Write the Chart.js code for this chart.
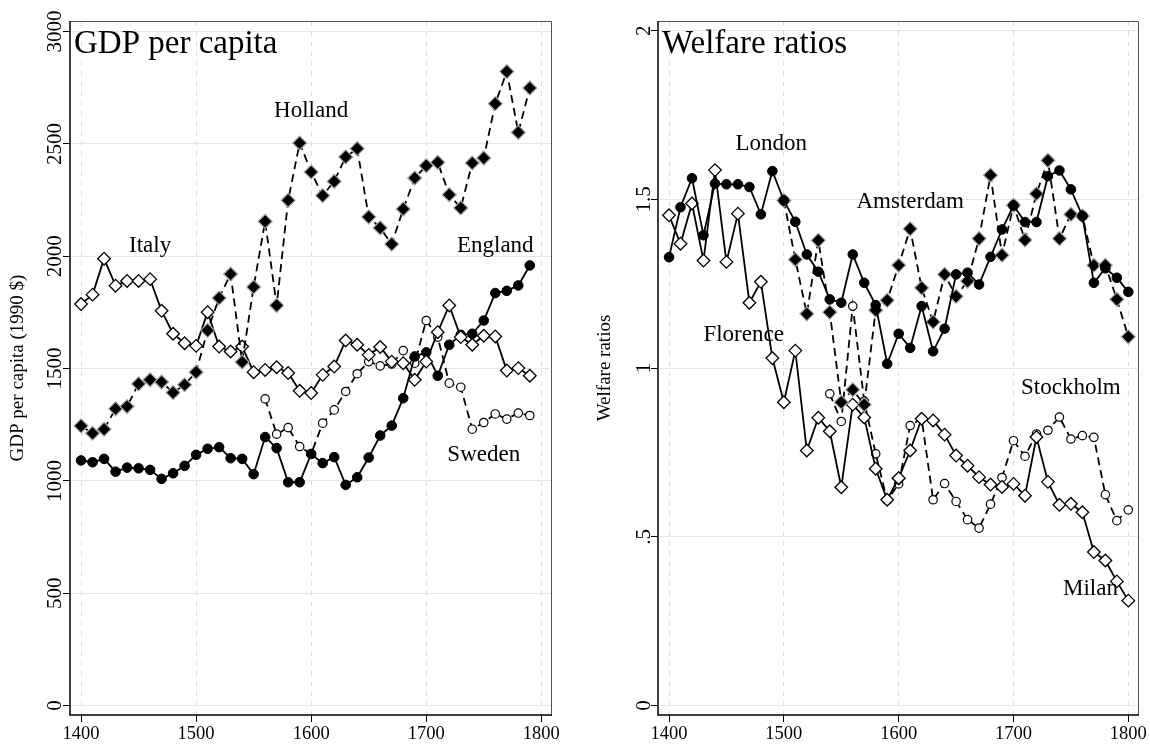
<!DOCTYPE html>
<html><head><meta charset="utf-8">
<script src="https://cdn.jsdelivr.net/npm/chart.js@4.4.1/dist/chart.umd.min.js"></script>
<style>
html,body{margin:0;padding:0;background:#fff;}
#wrap{position:relative;width:1150px;height:744px;background:#fff;}
.panel{position:absolute;top:0;width:575px;height:744px;}
#p1{left:0}#p2{left:575px}
</style></head><body>
<div id="wrap"><div class="panel" id="p1"><canvas id="c1" width="575" height="744"></canvas></div><div class="panel" id="p2"><canvas id="c2" width="575" height="744"></canvas></div></div>
<script>
// ---------- data: GDP per capita (1990 $) ----------
const gdpYears = [1400,1410,1420,1430,1440,1450,1460,1470,1480,1490,1500,1510,1520,1530,1540,1550,1560,1570,1580,1590,1600,1610,1620,1630,1640,1650,1660,1670,1680,1690,1700,1710,1720,1730,1740,1750,1760,1770,1780,1790];
const hollandGDP = [1245,1212,1230,1321,1331,1432,1450,1440,1393,1428,1484,1670,1814,1921,1529,1863,2155,1781,2249,2504,2375,2270,2333,2442,2479,2175,2126,2054,2210,2348,2403,2418,2274,2215,2415,2437,2679,2822,2551,2749];
const italyGDP = [1787,1829,1989,1869,1890,1890,1898,1757,1655,1613,1601,1751,1598,1576,1598,1484,1494,1506,1480,1401,1391,1472,1509,1625,1606,1561,1596,1531,1524,1450,1531,1662,1781,1640,1606,1646,1643,1491,1502,1468];
const englandGDP = [1091,1083,1098,1041,1059,1056,1049,1009,1034,1067,1116,1143,1150,1101,1098,1030,1195,1146,994,994,1120,1079,1106,982,1016,1104,1202,1246,1368,1554,1572,1468,1606,1650,1655,1714,1836,1846,1870,1959];
const swedenYears = [1560,1570,1580,1590,1600,1610,1620,1630,1640,1650,1660,1670,1680,1690,1700,1710,1720,1730,1740,1750,1760,1770,1780,1790];
const swedenGDP = [1365,1208,1237,1153,1120,1257,1316,1398,1477,1531,1512,1520,1580,1524,1714,1640,1435,1417,1230,1260,1298,1275,1302,1291];
const gdpTicks = [0,500,1000,1500,2000,2500,3000];

// ---------- data: welfare ratios ----------
const wrYears = [1400,1410,1420,1430,1440,1450,1460,1470,1480,1490,1500,1510,1520,1530,1540,1550,1560,1570,1580,1590,1600,1610,1620,1630,1640,1650,1660,1670,1680,1690,1700,1710,1720,1730,1740,1750,1760,1770,1780,1790,1800];
const londonWR = [1.329,1.477,1.563,1.394,1.547,1.545,1.545,1.537,1.456,1.584,1.497,1.434,1.337,1.286,1.204,1.194,1.337,1.253,1.187,1.013,1.102,1.060,1.184,1.050,1.117,1.278,1.283,1.248,1.330,1.411,1.482,1.433,1.433,1.569,1.586,1.530,1.451,1.253,1.296,1.268,1.226];
const amsterdamYears = [1500,1510,1520,1530,1540,1550,1560,1570,1580,1590,1600,1610,1620,1630,1640,1650,1660,1670,1680,1690,1700,1710,1720,1730,1740,1750,1760,1770,1780,1790,1800];
const amsterdamWR = [1.497,1.322,1.161,1.379,1.166,0.899,0.936,0.892,1.172,1.201,1.305,1.413,1.238,1.137,1.278,1.213,1.258,1.384,1.572,1.335,1.483,1.380,1.517,1.616,1.384,1.456,1.451,1.305,1.305,1.204,1.093];
const florenceYears = [1400,1410,1420,1430,1440,1450,1460,1470,1480,1490,1500,1510,1520,1530,1540,1550,1560,1570,1580,1590,1600];
const florenceWR = [1.453,1.369,1.488,1.319,1.587,1.315,1.458,1.194,1.256,1.030,0.899,1.052,0.756,0.853,0.813,0.647,0.892,0.854,0.702,0.610,0.674];
const milanYears = [1600,1610,1620,1630,1640,1650,1660,1670,1680,1690,1700,1710,1720,1730,1740,1750,1760,1770,1780,1790,1800];
const milanWR = [0.674,0.756,0.850,0.845,0.803,0.741,0.711,0.677,0.655,0.648,0.657,0.622,0.796,0.663,0.595,0.598,0.573,0.455,0.430,0.368,0.311];
const stockholmYears = [1540,1550,1560,1570,1580,1590,1600,1610,1620,1630,1640,1650,1660,1670,1680,1690,1700,1710,1720,1730,1740,1750,1760,1770,1780,1790,1800];
const stockholmWR = [0.924,0.842,1.184,0.902,0.746,0.608,0.657,0.830,0.850,0.610,0.658,0.605,0.551,0.526,0.597,0.676,0.785,0.739,0.805,0.816,0.855,0.790,0.800,0.795,0.625,0.548,0.580];
const wrTicks = [0,0.5,1,1.5,2];
const wrTickLabels = ['0','.5','1','1.5','2'];
const yearTicks = [1400,1500,1600,1700,1800];

// ---------- styles ----------
const SERIF = '"Liberation Serif", "Times New Roman", serif';
const DASH = [8,5];
const styles = {
  filledDiamondDash: {pointStyle:'rectRot', pointRadius:7, pointBackgroundColor:'#000', pointBorderColor:'#a8a8a8', pointBorderWidth:1.2, borderDash:DASH},
  openDiamond: {pointStyle:'rectRot', pointRadius:6.3, pointBackgroundColor:'#fff', pointBorderColor:'#000', pointBorderWidth:1.3},
  filledCircle: {pointStyle:'circle', pointRadius:4.8, pointBackgroundColor:'#000', pointBorderColor:'#000', pointBorderWidth:1},
  openCircleDash: {pointStyle:'circle', pointRadius:4.2, pointBackgroundColor:'#fff', pointBorderColor:'#000', pointBorderWidth:1.2, borderDash:DASH}
};
function series(label, years, vals, style){
  return Object.assign({label, data: years.map((yr,i)=>({x:yr,y:vals[i]})), borderColor:'#000', borderWidth:1.8, fill:false, tension:0, pointHoverRadius:0}, style);
}

const textPlugin = {
  id:'panelText',
  afterDatasetsDraw(chart, args, opts){
    const {ctx, chartArea:a, scales:{x,y}} = chart;
    ctx.save();
    ctx.fillStyle='#000';
    ctx.textAlign='center'; ctx.textBaseline='middle';
    ctx.font = '23px ' + SERIF;
    for (const l of opts.labels) ctx.fillText(l.text, x.getPixelForValue(l.x), y.getPixelForValue(l.y));
    ctx.textAlign='left'; ctx.textBaseline='alphabetic';
    ctx.font = '33px ' + SERIF;
    ctx.fillText(opts.title, a.left+4, a.top+32);
    ctx.restore();
  }
};
const framePlugin = {
  id:'frame',
  beforeDatasetsDraw(chart){
    const {ctx, chartArea:a} = chart;
    ctx.save(); ctx.setLineDash([]);
    ctx.strokeStyle='#555'; ctx.lineWidth=1;
    ctx.beginPath(); ctx.moveTo(a.left, a.top+0.5); ctx.lineTo(a.right-0.5, a.top+0.5); ctx.lineTo(a.right-0.5, a.bottom); ctx.stroke();
    ctx.strokeStyle='#000'; ctx.lineWidth=1.5;
    ctx.beginPath(); ctx.moveTo(a.left, a.top); ctx.lineTo(a.left, a.bottom); ctx.lineTo(a.right, a.bottom); ctx.stroke();
    ctx.restore();
  }
};

function makeChart(id, cfg){
  return new Chart(document.getElementById(id), {
    type:'line',
    data:{datasets:cfg.datasets},
    plugins:[framePlugin, textPlugin],
    options:{
      responsive:false, animation:false, events:[], devicePixelRatio:1,
      layout:{padding:{left:0, right:cfg.padRight, top:21, bottom:0}},
      plugins:{legend:{display:false}, tooltip:{enabled:false}, panelText:{labels:cfg.labels, title:cfg.title}},
      scales:{
        x:{type:'linear', min:1390.4, max:1809.3,
          afterBuildTicks:s=>{s.ticks = yearTicks.map(v=>({value:v}));},
          afterFit:s=>{s.height=29; s.paddingLeft=0; s.paddingRight=0;},
          grid:{color:'#dcdcdc', lineWidth:1, tickLength:7, tickColor:'#000', tickWidth:1},
          border:{display:false, dash:[5,5]},
          ticks:{minRotation:0, maxRotation:0, padding:1, color:'#000', font:{family:SERIF, size:18.5}, callback:v=>String(v)}
        },
        y:{type:'linear', min:cfg.ymin, max:cfg.ymax,
          afterBuildTicks:s=>{s.ticks = cfg.yticks.map(v=>({value:v}));},
          afterFit:s=>{s.width=cfg.yWidth; s.paddingTop=0; s.paddingBottom=0;},
          grid:{color:'#e6e6e6', lineWidth:1, tickLength:7, tickColor:'#000', tickWidth:1},
          border:{display:false},
          ticks:{minRotation:90, maxRotation:90, crossAlign:'center', padding:cfg.tickPad, color:'#000', font:{family:SERIF, size:21}, callback:cfg.ycb},
          title:{display:true, text:cfg.ytitle, color:'#000', font:{family:SERIF, size:19}, padding:{top:cfg.titlePad, bottom:0}}
        }
      }
    }
  });
}

makeChart('c1', {
  datasets:[
    series('Holland', gdpYears, hollandGDP, styles.filledDiamondDash),
    series('Italy', gdpYears, italyGDP, styles.openDiamond),
    series('England', gdpYears, englandGDP, styles.filledCircle),
    series('Sweden', swedenYears, swedenGDP, styles.openCircleDash)
  ],
  labels:[{text:'Holland',x:1600,y:2648},{text:'Italy',x:1460,y:2047},{text:'England',x:1760,y:2045},{text:'Sweden',x:1750,y:1116}],
  title:'GDP per capita', ytitle:'GDP per capita (1990 $)',
  ymin:-42, ymax:3047, yticks:gdpTicks, ycb:v=>String(v),
  yWidth:70, padRight:23, tickPad:-13, titlePad:6.6
});
makeChart('c2', {
  datasets:[
    series('London', wrYears, londonWR, styles.filledCircle),
    series('Amsterdam', amsterdamYears, amsterdamWR, styles.filledDiamondDash),
    series('Florence', florenceYears, florenceWR, styles.openDiamond),
    series('Milan', milanYears, milanWR, styles.openDiamond),
    series('Stockholm', stockholmYears, stockholmWR, styles.openCircleDash)
  ],
  labels:[{text:'London',x:1489,y:1.664},{text:'Amsterdam',x:1610,y:1.494},{text:'Florence',x:1465,y:1.097},{text:'Stockholm',x:1750,y:0.942},{text:'Milan',x:1767,y:0.345}],
  title:'Welfare ratios', ytitle:'Welfare ratios',
  ymin:-0.028, ymax:2.029, yticks:wrTicks, ycb:v=>{const i=wrTicks.indexOf(v); return i>=0?wrTickLabels[i]:String(v);},
  yWidth:83, padRight:11, tickPad:-6.2, titlePad:18.6
});
</script>
</body></html>
